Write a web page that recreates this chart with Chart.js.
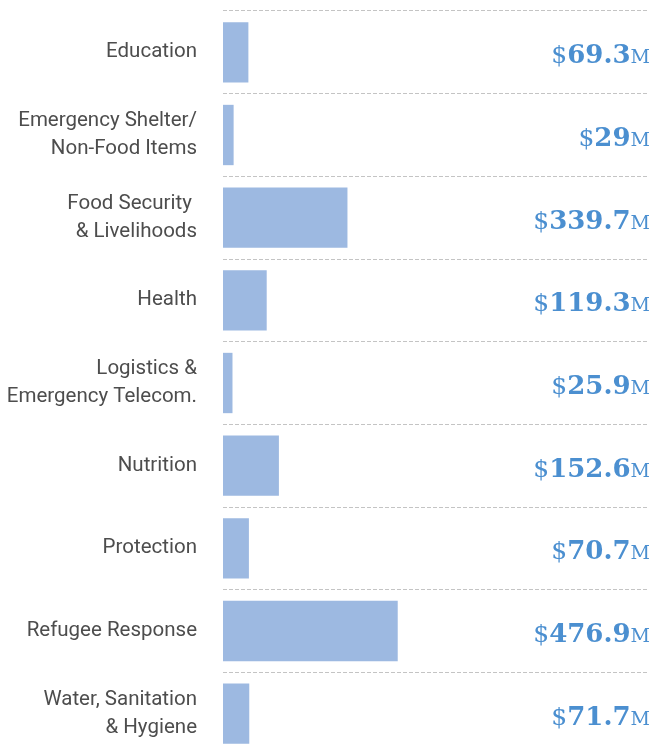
<!DOCTYPE html>
<html>
<head>
<meta charset="utf-8">
<script src="https://cdn.jsdelivr.net/npm/chart.js@4"></script>
<style>
    html, body { margin: 0; padding: 0; background: #fff; overflow: hidden; }
    #wrap { position: relative; width: 652px; height: 755px; }
</style>
</head>
<body>
<div id="wrap"><canvas id="fundingCanvas"></canvas></div>
<script>
// categories (multi line labels) and funding in millions of dollars
const sectors = [
    ['Education'],
    ['Emergency Shelter/', 'Non-Food Items'],
    ['Food Security ', '& Livelihoods'],
    ['Health'],
    ['Logistics &', 'Emergency Telecom.'],
    ['Nutrition'],
    ['Protection'],
    ['Refugee Response'],
    ['Water, Sanitation', '& Hygiene']
];
const funding = [69.3, 29, 339.7, 119.3, 25.9, 152.6, 70.7, 476.9, 71.7];

const BAR_COLOR = '#9db9e1';
const VALUE_COLOR = '#4b8fd0';
const VALUE_FONT = '"DejaVu Serif", serif';

// draws the "$69.3M" labels on the right side of each row
const valueLabels = {
    id: 'valueLabels',
    afterDatasetsDraw(chart) {
        const ctx = chart.ctx;
        const meta = chart.getDatasetMeta(0);
        const right = chart.width - 2;
        ctx.save();
        ctx.fillStyle = VALUE_COLOR;
        ctx.textAlign = 'right';
        ctx.textBaseline = 'alphabetic';
        meta.data.forEach((bar, i) => {
            const base = bar.y + 11;
            let x = right;
            ctx.font = '19px ' + VALUE_FONT;
            ctx.fillText('M', x, base);
            x -= ctx.measureText('M').width;
            ctx.font = 'bold 26px ' + VALUE_FONT;
            const num = String(funding[i]);
            ctx.fillText(num, x, base);
            x -= ctx.measureText(num).width;
            ctx.font = '25px ' + VALUE_FONT;
            ctx.fillText('$', x, base);
        });
        ctx.restore();
    }
};

document.addEventListener('DOMContentLoaded', function() {
    const ctx = document.getElementById('fundingCanvas').getContext('2d');
    new Chart(ctx, {
        type: 'bar',
        data: {
            labels: sectors,
            datasets: [{
                data: funding,
                backgroundColor: BAR_COLOR,
                borderWidth: 0,
                categoryPercentage: 1,
                barPercentage: 0.73
            }]
        },
        options: {
            indexAxis: 'y',
            responsive: true,
            maintainAspectRatio: false,
            animation: false,
            layout: { padding: { top: 11, right: 4, bottom: 0, left: 0 } },
            plugins: {
                legend: { display: false },
                tooltip: { enabled: false }
            },
            scales: {
                x: {
                    display: false,
                    min: 0,
                    max: 1160
                },
                y: {
                    border: { display: false, dash: [4, 2] },
                    grid: {
                        offset: true,
                        drawTicks: false,
                        color: '#c4c4c4',
                        lineWidth: 1
                    },
                    ticks: {
                        padding: 26,
                        color: '#4d4d4d',
                        font: { family: 'Roboto', size: 20.5, lineHeight: 1.37 }
                    },
                    afterFit(scale) {
                        scale.width = 223;
                        // no extra room above/below for the labels
                        scale.paddingTop = 0;
                        scale.paddingBottom = 0;
                    }
                }
            }
        },
        plugins: [valueLabels]
    });
});
</script>
</body>
</html>
